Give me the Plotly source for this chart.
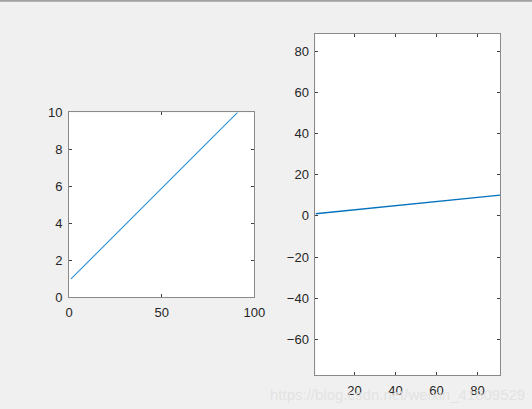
import plotly.graph_objects as go

# data: same line drawn in both subplots
x_vals = [1, 91]
y_vals = [1, 10]

left_xticks = [0, 50, 100]
left_yticks = [0, 2, 4, 6, 8, 10]
right_xticks = [20, 40, 60, 80]
right_yticks = [-60, -40, -20, 0, 20, 40, 60, 80]

line_color = "#0072BD"
box_color = "#8a8a8a"
text_color = "#262626"
font = dict(family="Liberation Sans, Arial, sans-serif", size=13, color=text_color)

fig = go.Figure()

fig.add_trace(
    go.Scatter(x=x_vals, y=y_vals, mode="lines", line=dict(color="#2a8fd6", width=1.1),
               xaxis="x", yaxis="y", showlegend=False)
)
fig.add_trace(
    go.Scatter(x=x_vals, y=y_vals, mode="lines", line=dict(color=line_color, width=1.3),
               xaxis="x2", yaxis="y2", showlegend=False)
)

axis_style = dict(
    showline=True, linecolor=box_color, linewidth=1, mirror="ticks",
    ticks="inside", ticklen=3, tickcolor="#404040", showgrid=False, zeroline=False,
    tickfont=font, automargin=False,
)

fig.update_layout(
    width=532, height=409,
    margin=dict(l=0, r=0, t=0, b=0, pad=0),
    paper_bgcolor="#f0f0f0",
    plot_bgcolor="white",
    showlegend=False,
    xaxis=dict(domain=[0.130, 0.478], range=[0, 100], tickvals=left_xticks,
               anchor="y", ticklabelstandoff=3, **axis_style),
    yaxis=dict(domain=[0.273, 0.725], range=[0, 10], tickvals=left_yticks,
               anchor="x", ticklabelstandoff=3, **axis_style),
    xaxis2=dict(domain=[0.593, 0.940], range=[1, 91], tickvals=right_xticks,
                anchor="y2", ticklabelstandoff=3, **axis_style),
    yaxis2=dict(domain=[0.083, 0.917], range=[-77.3, 88.3], tickvals=right_yticks,
                anchor="x2", ticklabelstandoff=3, **axis_style),
    shapes=[dict(type="line", xref="paper", yref="paper", x0=0, x1=1, y0=0.998, y1=0.998,
                 line=dict(color="#a0a0a0", width=2))],
    annotations=[dict(text="https://blog.csdn.net/weixin_41809529", xref="paper", yref="paper",
                      x=0.99, y=0.01, xanchor="right", yanchor="bottom", showarrow=False,
                      font=dict(family="Liberation Sans, Arial, sans-serif", size=15,
                                color="rgba(225,225,225,0.9)"))],
)

fig.write_html("out.html", config={"displayModeBar": False},
               post_script="document.body.style.margin='0';")
